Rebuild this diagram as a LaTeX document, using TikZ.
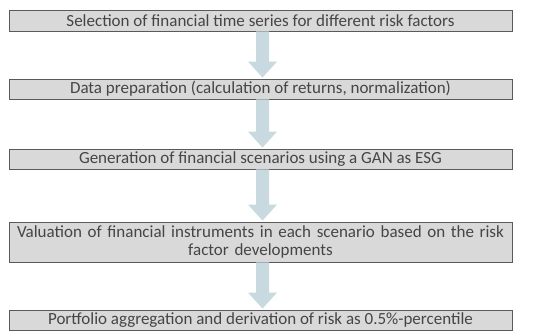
\documentclass[tikz,border=0pt]{standalone}
\usepackage{fontspec}
\setmainfont{Carlito}
\usetikzlibrary{calc}
\definecolor{boxfill}{HTML}{D9D9D9}
\definecolor{boxline}{HTML}{5A5A5A}
\definecolor{txt}{HTML}{454545}
\definecolor{arr}{HTML}{C8DADF}
\begin{document}
\begin{tikzpicture}[x=1pt,y=1pt,
  stepbox/.style={draw=boxline,line width=0.8pt,fill=boxfill,text=txt,
    minimum width=503pt,inner sep=0pt,align=center,font=\fontsize{17}{18}\selectfont},
  flowarrow/.style={fill=arr,draw=none}]
\useasboundingbox (0,0) rectangle (550,336);
\node[stepbox,minimum height=21pt] (b1) at (260.5,315.5) {Selection of financial time series for different risk factors};
\node[stepbox,minimum height=20pt] (b2) at (260.5,247) {Data preparation (calculation of returns, normalization)};
\node[stepbox,minimum height=20pt] (b3) at (260.5,177) {Generation of financial scenarios using a GAN as ESG};
\node[stepbox,minimum height=40pt,text width=500pt] (b4) at (260.5,94) {Valuation of financial instruments in each scenario based on the risk\\factor developments};
\node[stepbox,minimum height=20pt] (b5) at (260.5,16) {Portfolio aggregation and derivation of risk as 0.5\%-percentile};
\foreach \a/\b in {b1/b2,b2/b3,b3/b4,b4/b5}{
  \path let \p1=(\a.south), \p2=(\b.north) in
    [flowarrow] (256,\y1) -- (269,\y1) -- (269,\y2+17) -- (277,\y2+17) -- (262.5,\y2+1) -- (248,\y2+17) -- (256,\y2+17) -- cycle;
}
\end{tikzpicture}
\end{document}
